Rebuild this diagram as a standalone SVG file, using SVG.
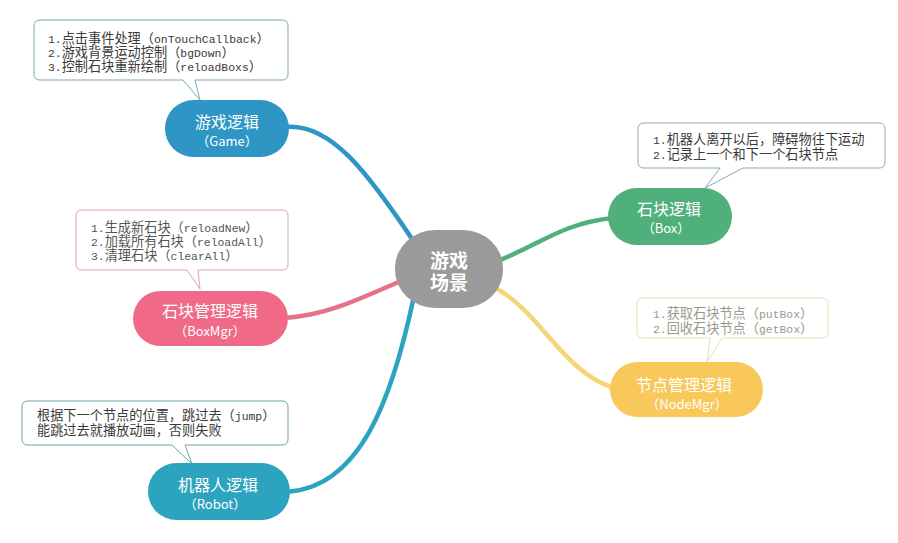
<svg xmlns="http://www.w3.org/2000/svg" width="898" height="543" viewBox="0 0 898 543">
<style>
.c{font-family:"Noto Sans CJK SC","Liberation Sans",sans-serif;font-size:13.2px;fill:#3a3a3a}
.m{font-family:"Liberation Mono","DejaVu Sans Mono",monospace;font-size:11.4px}
.n{font-family:"Noto Sans CJK SC","Liberation Sans",sans-serif;font-size:16px;fill:#ffffff;text-anchor:middle}
.s{font-size:13px}
.co{fill:#ffffff;stroke-width:1}
.w{fill:none;stroke-linecap:round;stroke-width:4.5}
</style>
<rect width="898" height="543" fill="#ffffff"/>
<g id="connectors">
<path class="w" stroke="#2e96c4" d="M 285 127 C 330 122, 368 172, 418 248"/>
<path class="w" stroke="#e8718a" d="M 285 318 C 330 315, 365 296, 408 278"/>
<path class="w" stroke="#2ca4c0" d="M 286 492 C 360 488, 392 400, 414 296"/>
<path class="w" stroke="#50b07c" d="M 495 262 C 540 245, 560 224, 612 218"/>
<path class="w" stroke="#f5d47a" d="M 492 286 C 540 310, 562 372, 614 388"/>
</g>
<g id="game-note">
<path class="co" stroke="#79a9b5" d="M 40 20 H 282 Q 288 20 288 26 V 74 Q 288 80 282 80 H 195 L 200 100 L 183 80 H 40 Q 34 80 34 74 V 26 Q 34 20 40 20 Z"/>
<text class="c"><tspan x="48" y="43"><tspan class="m">1.</tspan>点击事件处理（<tspan class="m">onTouchCallback</tspan>）</tspan><tspan x="48" y="57"><tspan class="m">2.</tspan>游戏背景运动控制（<tspan class="m">bgDown</tspan>）</tspan><tspan x="48" y="71"><tspan class="m">3.</tspan>控制石块重新绘制（<tspan class="m">reloadBoxs</tspan>）</tspan></text>
</g>
<g id="boxmgr-note">
<path class="co" stroke="#d9a3b3" d="M 82 210 H 282 Q 288 210 288 216 V 264 Q 288 270 282 270 H 198 L 200 289 L 187 270 H 82 Q 76 270 76 264 V 216 Q 76 210 82 210 Z"/>
<text class="c" style="fill:#555"><tspan x="91" y="232"><tspan class="m">1.</tspan>生成新石块（<tspan class="m">reloadNew</tspan>）</tspan><tspan x="91" y="246"><tspan class="m">2.</tspan>加载所有石块（<tspan class="m">reloadAll</tspan>）</tspan><tspan x="91" y="260"><tspan class="m">3.</tspan>清理石块（<tspan class="m">clearAll</tspan>）</tspan></text>
</g>
<g id="robot-note">
<path class="co" stroke="#6aa3ad" d="M 28 401 H 282 Q 288 401 288 407 V 439 Q 288 445 282 445 H 185 L 192 464 L 172 445 H 28 Q 22 445 22 439 V 407 Q 22 401 28 401 Z"/>
<text class="c"><tspan x="37" y="420">根据下一个节点的位置，跳过去（<tspan class="m">jump</tspan>）</tspan><tspan x="37" y="435">能跳过去就播放动画，否则失败</tspan></text>
</g>
<g id="box-note">
<path class="co" stroke="#8aa9ae" d="M 644 123 H 879 Q 885 123 885 129 V 162 Q 885 168 879 168 H 743 L 705 188 L 720 168 H 644 Q 638 168 638 162 V 129 Q 638 123 644 123 Z"/>
<text class="c"><tspan x="653" y="144"><tspan class="m">1.</tspan>机器人离开以后，障碍物往下运动</tspan><tspan x="653" y="159"><tspan class="m">2.</tspan>记录上一个和下一个石块节点</tspan></text>
</g>
<g id="nodemgr-note">
<path class="co" stroke="#e9dfb5" d="M 643 298 H 822 Q 828 298 828 304 V 332 Q 828 338 822 338 H 722 L 707 362 L 710 338 H 643 Q 637 338 637 332 V 304 Q 637 298 643 298 Z"/>
<text class="c" style="fill:#9a9a8a"><tspan x="653" y="318"><tspan class="m">1.</tspan>获取石块节点（<tspan class="m">putBox</tspan>）</tspan><tspan x="653" y="333"><tspan class="m">2.</tspan>回收石块节点（<tspan class="m">getBox</tspan>）</tspan></text>
</g>
<g id="center">
<rect x="395" y="230" width="108" height="78" rx="40" ry="38" fill="#9a9a9a"/>
<text class="n" style="font-size:19px;font-weight:bold"><tspan x="449" y="268">游戏</tspan><tspan x="449" y="290">场景</tspan></text>
</g>
<g id="game">
<rect x="165" y="100" width="124" height="57" rx="28.5" fill="#2e96c4"/>
<text class="n" x="227" y="128">游戏逻辑</text>
<text class="n s" x="227" y="146">（Game）</text>
</g>
<g id="boxmgr">
<rect x="133" y="291" width="155" height="55" rx="27.5" fill="#f06a87"/>
<text class="n" x="210" y="317">石块管理逻辑</text>
<text class="n s" x="210" y="336">（BoxMgr）</text>
</g>
<g id="robot">
<rect x="148" y="463" width="142" height="57" rx="28.5" fill="#2ca4c0"/>
<text class="n" x="218" y="491">机器人逻辑</text>
<text class="n s" x="215" y="509">（Robot）</text>
</g>
<g id="box">
<rect x="608" y="188" width="124" height="57" rx="28.5" fill="#50b07c"/>
<text class="n" x="669" y="215">石块逻辑</text>
<text class="n s" x="666" y="233">（Box）</text>
</g>
<g id="nodemgr">
<rect x="610" y="362" width="153" height="55" rx="27.5" fill="#f8c85a"/>
<text class="n" x="684" y="391">节点管理逻辑</text>
<text class="n s" x="687" y="409">（NodeMgr）</text>
</g>
</svg>
